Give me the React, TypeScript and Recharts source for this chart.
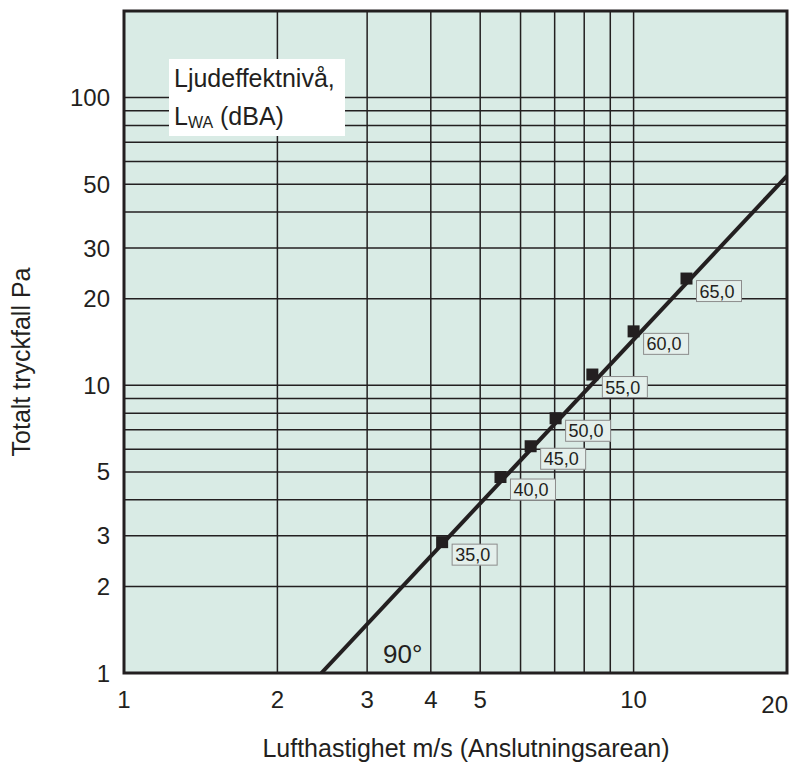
import React from "react";
import {
  ComposedChart,
  Line,
  Scatter,
  XAxis,
  YAxis,
  CartesianGrid,
  ReferenceArea,
} from "recharts";

// lufthastighet (m/s) och tryckfall (Pa) vid respektive ljudnivå
const velocity = [4.21, 5.48, 6.28, 7.03, 8.3, 10.0, 12.7];
const pressure = [2.85, 4.8, 6.14, 7.68, 10.9, 15.4, 23.5];
const soundLevel = [35, 40, 45, 50, 55, 60, 65];

// kurvans ändpunkter (90°)
const curveVelocity = [2.44, 20];
const curvePressure = [1, 53.5];

// rutnät och etiketter
const xGridTicks = [1, 2, 3, 4, 5, 6, 7, 8, 9, 10, 20];
const xLabelTicks = [1, 2, 3, 4, 5, 10, 20];
const yGridTicks = [1, 2, 3, 4, 5, 6, 7, 8, 9, 10, 20, 30, 40, 50, 60, 70, 80, 90, 100, 200];
const yLabelTicks = [1, 2, 3, 5, 10, 20, 30, 50, 100];

const INK = "#231f20";
const FONT = "'Liberation Sans', Arial, Helvetica, sans-serif";

const points = velocity.map((v, i) => ({ x: v, y: pressure[i], level: soundLevel[i] }));
const curve = curveVelocity.map((v, i) => ({ x: v, y: curvePressure[i] }));

const XTick = (props: any) => {
  const { x, y, payload } = props;
  if (!xLabelTicks.includes(payload.value)) return <g />;
  const last = payload.value === 20;
  return (
    <text
      x={last ? x + 1 : x}
      y={y + (last ? 40 : 35)}
      textAnchor={last ? "end" : "middle"}
      fontSize={24}
      fill={INK}
      fontFamily={FONT}
    >
      {payload.value}
    </text>
  );
};

const YTick = (props: any) => {
  const { x, y, payload } = props;
  if (!yLabelTicks.includes(payload.value)) return <g />;
  return (
    <text x={x} y={y} dy={8.5} textAnchor="end" fontSize={24} fill={INK} fontFamily={FONT}>
      {payload.value}
    </text>
  );
};

// fyrkantig markör med etikettruta
const Marker = (props: any) => {
  const { cx, cy, payload } = props;
  const label = payload.level.toFixed(1).replace(".", ",");
  return (
    <g>
      <rect x={cx - 6} y={cy - 6} width={12} height={12} fill={INK} />
      <rect
        x={cx + 10}
        y={cy + 2}
        width={45}
        height={21}
        fill="#e4efeb"
        stroke="#8c8c8c"
        strokeWidth={1}
      />
      <text x={cx + 13} y={cy + 19} fontSize={18} fill={INK} fontFamily={FONT}>
        {label}
      </text>
    </g>
  );
};

const App = () => {
  return (
    <div style={{ position: "absolute", left: 0, top: 0, width: 793, height: 765 }}>
      <ComposedChart
        width={793}
        height={765}
        margin={{ top: 11, right: 6, left: 0, bottom: 0 }}
      >
        <CartesianGrid
          fill="#d9ebe5"
          fillOpacity={1}
          stroke={INK}
          strokeWidth={1.5}
          strokeOpacity={1}
        />
        <XAxis
          dataKey="x"
          type="number"
          scale="log"
          domain={[1, 20]}
          ticks={xGridTicks}
          interval={0}
          tick={XTick}
          tickLine={false}
          axisLine={false}
          tickSize={0}
          tickMargin={0}
          height={92}
          allowDataOverflow
        />
        <YAxis
          dataKey="y"
          type="number"
          scale="log"
          domain={[1, 200]}
          ticks={yGridTicks}
          interval={0}
          tick={YTick}
          tickLine={false}
          axisLine={false}
          tickSize={0}
          tickMargin={14}
          width={124}
          allowDataOverflow
        />
        <ReferenceArea
          x1={1}
          x2={20}
          y1={1}
          y2={200}
          fill="none"
          stroke={INK}
          strokeWidth={3}
        />
        <Line
          data={curve}
          dataKey="y"
          type="linear"
          stroke={INK}
          strokeWidth={4}
          dot={false}
          activeDot={false}
          isAnimationActive={false}
        />
        <Scatter data={points} dataKey="y" shape={Marker} isAnimationActive={false} />

        <g fontFamily={FONT} fill={INK}>
          <rect x={169} y={59} width={176} height={77} fill="#ffffff" />
          <text x={174} y={87} fontSize={25}>
            Ljudeffektnivå,
          </text>
          <text x={174} y={125} fontSize={25}>
            L
            <tspan fontSize={16} dy={3}>
              WA
            </tspan>
            <tspan dy={-3}> (dBA)</tspan>
          </text>
          <text x={383} y={663} fontSize={26}>
            90°
          </text>
          <text x={466} y={757} fontSize={25} textAnchor="middle">
            Lufthastighet m/s (Anslutningsarean)
          </text>
          <text transform="translate(30, 362) rotate(-90)" fontSize={25} textAnchor="middle">
            Totalt  tryckfall Pa
          </text>
        </g>
      </ComposedChart>
    </div>
  );
};

export default App;
